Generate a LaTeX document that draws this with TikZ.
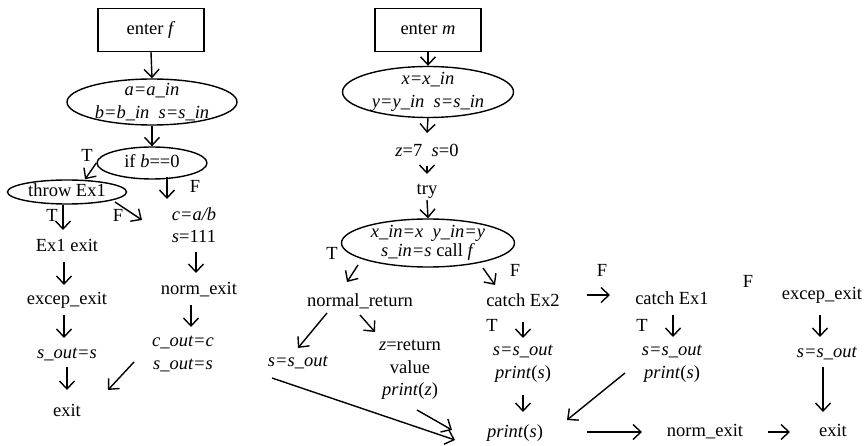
\documentclass[tikz,border=0pt]{standalone}
\usepackage{fontspec}
\setmainfont{Liberation Serif}
\usetikzlibrary{arrows.meta,shapes.geometric,calc}
\begin{document}
\begin{tikzpicture}[x=1pt,y=-1pt,
  every node/.style={font=\fontsize{18.5}{22.5}\selectfont, inner sep=1pt},
  txt/.style={text height=12.5pt, text depth=4pt},
  ml/.style={align=center},
  box/.style={draw, line width=1.4pt, minimum width=106pt, minimum height=43pt, txt},
  ell/.style={draw, ellipse, line width=1.4pt, inner sep=0pt},
  arr/.style={-{Straight Barb[length=8pt,width=15pt]}, line width=1.4pt},
  lbl/.style={txt}
]
\useasboundingbox (0,0) rectangle (867,446);
% ---------- procedure f ----------
\node[box] (ef) at (151,30) {enter \textit{f}};
\node[ell, minimum width=170pt, minimum height=46pt,
  label={[ml]center:{\textit{a=a\_in}\\\textit{b=b\_in}\enspace\textit{s=s\_in}}}] (e1) at (152,102) {};
\node[ell, minimum width=110pt, minimum height=32pt,
  label={[txt]center:{if \textit{b}==0}}] (if) at (152,163) {};
\node[ell, minimum width=119pt, minimum height=24pt,
  label={[txt]center:{throw Ex1}}] (thr) at (67,192) {};
\node[ml] (ca) at (194,225) {\textit{c=a/b}\\\textit{s}=111};
\node[txt] (ex1) at (67,247) {Ex1 exit};
\node[txt] (xe) at (67,300) {excep\_exit};
\node[txt] (so) at (67,354) {\textit{s\_out=s}};
\node[txt] (exf) at (67,412) {exit};
\node[txt] (ne) at (199,290) {norm\_exit};
\node[ml] (co) at (183,354) {\textit{c\_out=c}\\\textit{s\_out=s}};
\node[lbl] (t1) at (87,157) {T};
\node[lbl] (f1) at (195,188) {F};
\node[lbl] (t2) at (52,217) {T};
\node[lbl] (f2) at (118,217) {F};

\draw[arr] (ef.south) -- (e1.north);
\draw[arr] (e1.south) -- (if.north);
\draw[arr] (if.west) -- ($(thr.north)+(18,0)$);
\draw[arr] ($(if)+(15,14)$) -- ($(if)+(15,36)$);
\draw[arr] ($(thr)+(-4,13)$) -- ($(ex1)+(-4,-17)$);
\draw[arr] ($(thr)+(48,10)$) -- ($(ca)+(-52,-5)$);
\draw[arr] ($(ca)+(2,27)$) -- ($(ne)+(-3,-17)$);
\draw[arr] ($(ex1)+(-3,15)$) -- ($(xe)+(-3,-15)$);
\draw[arr] ($(xe)+(-3,15)$) -- ($(so)+(-3,-16)$);
\draw[arr] ($(so)+(0,13)$) -- ($(exf)+(0,-22)$);
\draw[arr] ($(ne)+(-8,15)$) -- ($(co)+(8,-27)$);
\draw[arr] ($(co)+(-49,8)$) -- ($(exf)+(41,-22)$);

% ---------- procedure m ----------
\node[box] (em) at (428,30) {enter \textit{m}};
\node[ell, minimum width=171pt, minimum height=51pt,
  label={[ml]center:{\textit{x=x\_in}\\\textit{y=y\_in}\enspace\textit{s=s\_in}}}] (e2) at (428,92) {};
\node[txt] (z7) at (427,152) {\textit{z}=7\enspace\textit{s}=0};
\node[txt] (try) at (427,190) {try};
\node[ell, minimum width=173pt, minimum height=48pt,
  label={[ml,font=\fontsize{18.5}{19}\selectfont]center:{\textit{x\_in=x}\enspace\textit{y\_in=y}\\\textit{s\_in=s} call \textit{f}}}] (e3) at (428,243) {};
\node[lbl] (t3) at (332,255) {T};
\node[lbl] (f3) at (515,272) {F};
\node[txt] (nr) at (360,302) {normal\_return};
\node[txt] (ce2) at (523,302) {catch Ex2};
\node[txt] (ss1) at (298,362) {\textit{s=s\_out}};
\node[ml] (zr) at (410,370) {\textit{z}=return\\value\\\textit{print}(\textit{z})};
\node[lbl] (t4) at (492,327) {T};
\node[ml] (c2b) at (523,364) {\textit{s=s\_out}\\\textit{print}(\textit{s})};
\node[txt] (ps) at (515,433) {\textit{print}(\textit{s})};
\node[lbl] (f4) at (602,272) {F};
\node[txt] (ce1) at (672,300) {catch Ex1};
\node[lbl] (t5) at (642,327) {T};
\node[ml] (c1b) at (672,364) {\textit{s=s\_out}\\\textit{print}(\textit{s})};
\node[lbl] (f5) at (748,283) {F};
\node[txt] (xe2) at (822,295) {excep\_exit};
\node[txt] (ss2) at (827,353) {\textit{s=s\_out}};
\node[txt] (nx) at (705,432) {norm\_exit};
\node[txt] (ex2) at (833,432) {exit};

\draw[arr] (em.south) -- (e2.north);
\draw[arr] (e2.south) -- ($(z7)+(0,-19)$);
\draw[arr] ($(z7)+(0,14)$) -- ($(try)+(0,-16)$);
\draw[arr] ($(try)+(0,10)$) -- (e3.north);
\draw[arr] ($(e3)+(-70,22)$) -- ($(nr)+(-13,-20)$);
\draw[arr] ($(e3)+(55,25)$) -- ($(ce2)+(-28,-17)$);
\draw[arr] ($(nr)+(-33,11)$) -- ($(ss1)+(0,-14)$);
\draw[arr] ($(nr)+(0,13)$) -- ($(zr)+(-35,-38)$);
\draw[arr] ($(ss1)+(-26,16)$) -- ($(ps)+(-60,7)$);
\draw[arr] ($(zr)+(7,40)$) -- ($(ps)+(-63,-3)$);
\draw[arr] ($(ce2)+(0,20)$) -- ($(c2b)+(0,-26)$);
\draw[arr] ($(c2b)+(0,31)$) -- ($(ps)+(8,-21)$);
\draw[arr] ($(ce2)+(64,-7)$) -- ($(ce1)+(-62,-5)$);
\draw[arr] ($(ce1)+(1,15)$) -- ($(c1b)+(1,-27)$);
\draw[arr] ($(c1b)+(-47,9)$) -- ($(ps)+(52,-13)$);
\draw[arr] ($(xe2)+(-2,20)$) -- ($(ss2)+(-7,-16)$);
\draw[arr] ($(ss2)+(-4,14)$) -- ($(ex2)+(-10,-20)$);
\draw[arr] ($(ps)+(72,-1)$) -- ($(nx)+(-63,0)$);
\draw[arr] ($(nx)+(63,0)$) -- ($(ex2)+(-43,0)$);
\end{tikzpicture}
\end{document}
